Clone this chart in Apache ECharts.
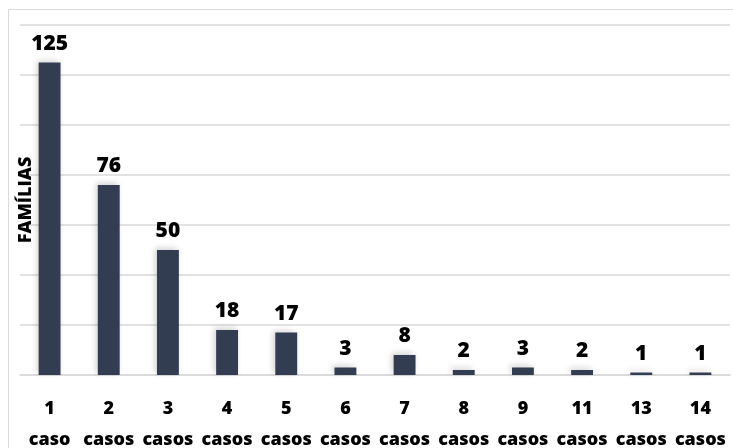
<!DOCTYPE html>
<html>
<head>
<meta charset="utf-8">
<script src="https://cdn.jsdelivr.net/npm/echarts@6/dist/echarts.min.js"></script>
<style>
  html, body { margin: 0; padding: 0; background: #fff; }
  #chart { width: 733px; height: 448px; }
</style>
</head>
<body>
<div id="chart"></div>
<script>
// Número de famílias por quantidade de casos
const categories = ['1\ncaso', '2\ncasos', '3\ncasos', '4\ncasos', '5\ncasos', '6\ncasos',
                    '7\ncasos', '8\ncasos', '9\ncasos', '11\ncasos', '13\ncasos', '14\ncasos'];
const familias = [125, 76, 50, 18, 17, 3, 8, 2, 3, 2, 1, 1];
const yAxisName = 'FAMÍLIAS';

const FONT = '"Open Sans", sans-serif';
const chart = echarts.init(document.getElementById('chart'));

chart.setOption({
  animation: false,
  backgroundColor: '#ffffff',
  textStyle: { fontFamily: FONT },
  graphic: [{
    type: 'rect',
    shape: { x: 8.5, y: 9.5, width: 740, height: 460 },
    style: { fill: 'none', stroke: '#d9d9d9', lineWidth: 1 },
    silent: true,
    z: -10
  }],
  grid: { left: 20, right: 3, top: 25, bottom: 73, containLabel: false, outerBoundsMode: 'none' },
  xAxis: {
    type: 'category',
    data: categories,
    axisLine: { lineStyle: { color: '#d9d9d9', width: 1.5 } },
    axisTick: { show: false },
    axisLabel: {
      color: '#000',
      fontFamily: FONT,
      fontWeight: 800,
      fontSize: 18,
      lineHeight: 31,
      margin: 18,
      interval: 0
    }
  },
  yAxis: {
    type: 'value',
    min: 0,
    max: 140,
    interval: 20,
    name: yAxisName,
    nameLocation: 'middle',
    nameGap: -15,
    nameRotate: 90,
    nameTextStyle: { color: '#000', fontFamily: FONT, fontWeight: 800, fontSize: 18 },
    axisLine: { show: false },
    axisTick: { show: false },
    axisLabel: { show: false },
    splitLine: { lineStyle: { color: '#d9d9d9', width: 1.5 } }
  },
  series: [{
    type: 'bar',
    data: familias,
    barWidth: '37%',
    itemStyle: {
      color: '#333d51',
      shadowColor: 'rgba(0,0,0,0.18)',
      shadowBlur: 6,
      shadowOffsetX: -2,
      shadowOffsetY: -2
    },
    label: {
      show: true,
      position: 'top',
      distance: 8,
      color: '#000',
      fontFamily: FONT,
      fontWeight: 800,
      fontSize: 21
    }
  }]
});
</script>
</body>
</html>
